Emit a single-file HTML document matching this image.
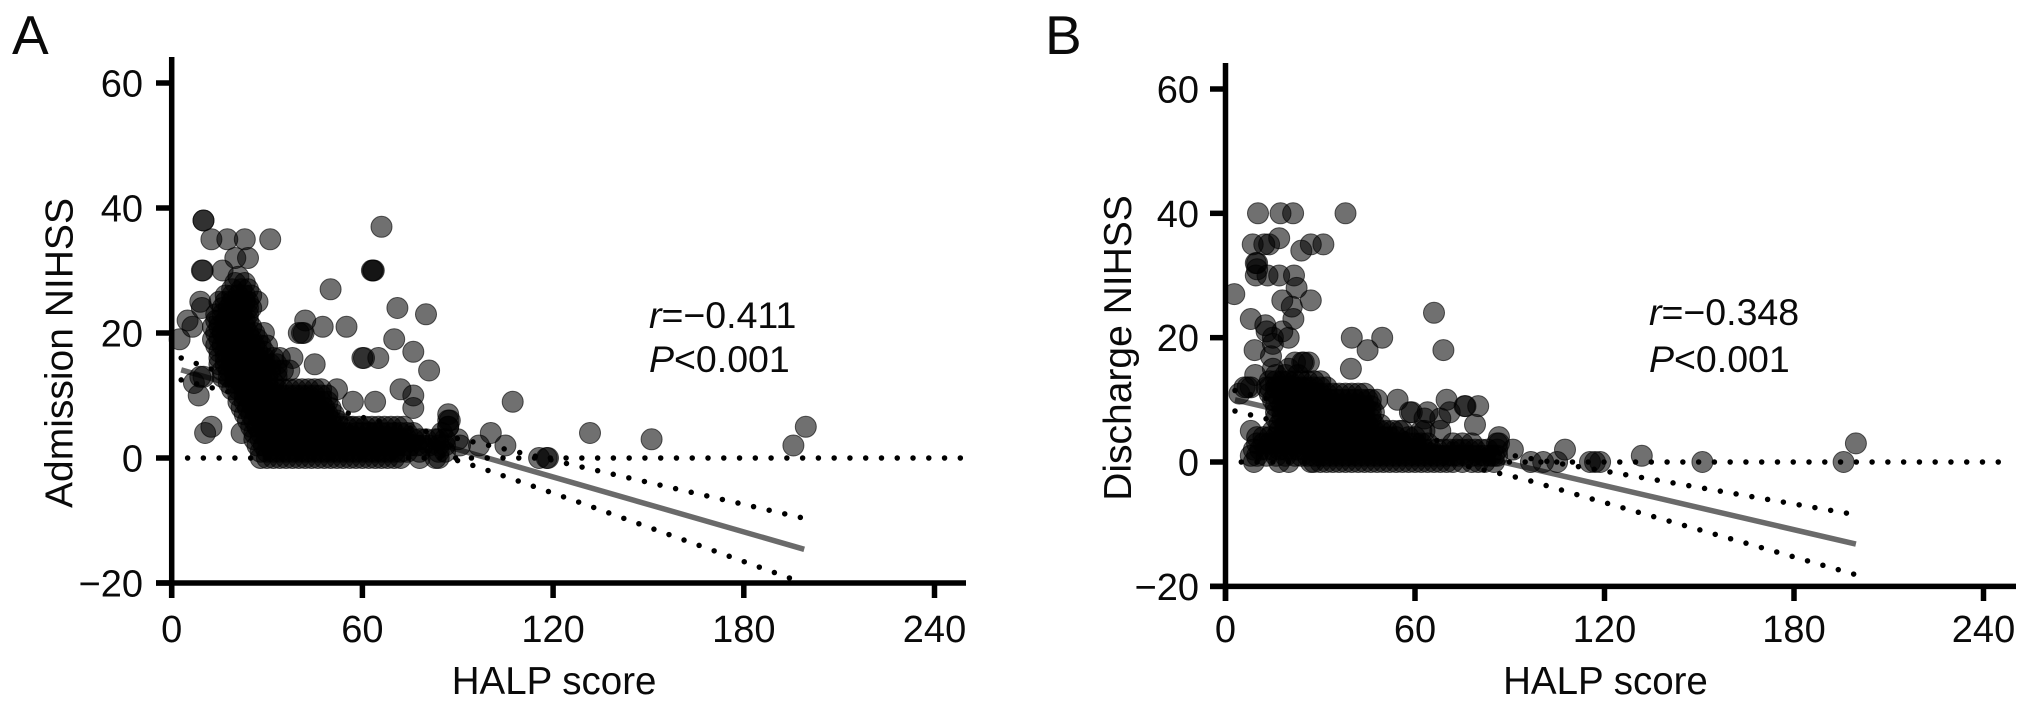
<!DOCTYPE html>
<html lang="en">
<head>
<meta charset="utf-8">
<title>HALP score vs NIHSS</title>
<style>
html,body{margin:0;padding:0;background:#fff;}
svg{display:block;}
text{font-family:"Liberation Sans",Arial,sans-serif;fill:#0a0a0a;}
</style>
</head>
<body>
<svg id="figure" xmlns="http://www.w3.org/2000/svg" width="2032" height="707" viewBox="0 0 2032 707"></svg>
<script>
/* Shared axis ticks */
const xTickValues = [0, 60, 120, 180, 240];
const yTickValues = [60, 40, 20, 0, -20];
const zeroLineScores = [5, 249];
const zeroLineValues = [0, 0];

/* Panel A: NIHSS levels and the HALP scores observed at each level */
const nihssLevelsA = [38,37,35,32,30,29,28,27,26,25,24,23,22,21,20,19,18,17,16,15,14,13,12,11,10,9,8,7,6,5,4,3,2,1,0];
const halpByLevelA = [
  [10,10],
  [66],
  [12.5,17.5,23,31],
  [20,24],
  [9.5,9.8,16,63,63.3,63.6],
  [21],
  [20,23],
  [50,19,22,24],
  [17,19,21,23,25],
  [9,15,17,19,21,23,24,27],
  [9.5,71,16,18,20,22,24,25],
  [80,14,16,18,20,22,24],
  [5,42,14,15,17,19,21,23,24],
  [6.5,47.5,55,13,15,17,19,21,23,25],
  [41,41.5,40,29,14,16,18,20,22,24,26],
  [2.5,70,13,15,17,19,21,23,25,27],
  [30,14,16,18,20,22,24,26,28],
  [76,15,17,19,21,23,25,27,29],
  [38,60,60.5,65,15,17,19,21,23,25,27,29,32,34],
  [45,15,17,19,21,23,25,27,29,31,33],
  [37,81,16,18,20,22,24,26,28,31,33,35],
  [9,10,16,18,20,22,24,26,28,30,33],
  [7,18,20,22,24,26,28,30,32],
  [52,72,19,21,23,25,27,29,31,33,35,37,39,41,43,45,47],
  [8.5,76,21,23,25,27,29,31,33,35,37,39,41,43,45,47,49],
  [57,64,21,23,25,27,29,31,33,35,37,39,41,43,45,47,49],
  [76,22,24,26,28,30,32,34,36,38,40,42,44,46,48,50],
  [87,23,25,27,29,31,33,35,37,39,41,43,45,47,49,51],
  [87,87.5,24,26,28,30,32,34,36,38,40,42,44,46,48,50,52],
  [12.5,87,87,25,27,29,31,33,35,37,39,41,43,45,47,49,51,53,55,57,59,61,63,65,67,69,71,73],
  [10.5,100.4,131.6,85,22,26,28,30,32,34,36,38,40,42,44,46,48,50,52,54,56,58,60,62,64,66,68,70,72,74,76],
  [151,86,84,90,26,28,30,32,34,36,38,40,42,44,46,48,50,52,54,56,58,60,62,64,66,68,70,72,74,76,78,80,83],
  [96.7,105,195.6,90.7,27,29,31,33,35,37,39,41,43,45,47,49,51,53,55,57,59,61,63,65,67,69,71,73,75,77,79,81,84,86],
  [28,30,32,34,36,38,40,42,44,46,48,50,52,54,56,58,60,62,64,66,68,70,72,74,78,84,86],
  [115.6,118,118.4,28,30,32,34,36,38,40,42,44,46,48,50,52,54,56,58,60,62,64,66,68,70,72,78,83,84]
];
const extraHighScoreA = [107.3, 199.5];
const extraHighValueA = [9, 5];
const fitScoresA = [3, 199];
const fitValuesA = [14.1, -14.6];
const upperScoresA = [3, 30, 60, 100, 127, 156, 199];
const upperValuesA = [16, 11, 6.5, 2, -1.2, -4.6, -9.65];
const lowerScoresA = [3, 30, 60, 97.3, 130, 195.5];
const lowerValuesA = [12.5, 9, 4.4, -1.6, -7.4, -19.4];

/* Panel B: NIHSS levels and the HALP scores observed at each level */
const nihssLevelsB = [40,36,35,34,32,31,30,28,27,26,25,24,23,22,21,20,19,18,17,16,15,14,13,12,11,10,9,8,7,6,5,4,3,2,1,0];
const halpByLevelB = [
  [10.3,17.4,21.4,38],
  [17],
  [8.6,12.3,13.8,27,31],
  [24],
  [9.6,10],
  [10],
  [9.6,13.3,17,21.7],
  [22.5],
  [2.8],
  [18,27],
  [21],
  [66],
  [8,21.5],
  [12.6],
  [13,18],
  [40,49.6,20,15],
  [15],
  [9.2,45,69],
  [14.4],
  [24.3,24.8,26.4,22],
  [39.7,15,20],
  [9.4,16,19,23],
  [14,16,18,20,22,24,26,28,30],
  [7,8,6,13,14,16,18,20,22,24,26,28,30,32],
  [4.4,40,14,16,18,20,22,24,26,28,30,32,34,36,38,42,44],
  [54.5,70,46,15,17,19,21,23,25,27,29,31,33,35,37,39,41,43,45,48],
  [75.7,76,80,16,18,20,22,24,26,28,30,32,34,36,38,40,42,44,46],
  [58.4,59,64,71,16,18,20,22,24,26,28,30,32,34,36,38,40,42,44,46,47],
  [63,68,16,18,20,22,24,26,28,30,32,34,36,38,40,42,44,46],
  [79,17,19,21,23,25,27,29,31,33,35,37,39,41,43,45,47,49],
  [8,68,62,63,56,15,17,19,21,23,25,27,29,31,33,35,37,39,41,43,45,47,49,51,53,55],
  [10,12,14,16,18,20,22,24,26,28,30,32,34,36,38,40,42,44,46,48,50,52,54,58,60,86.6],
  [86.6,86,10,12,14,16,18,20,22,24,26,28,30,32,34,36,38,40,42,44,46,48,50,52,54,56,58,60,62,64,72,75,78],
  [91,107.5,86,9,11,13,15,17,19,21,23,25,27,29,31,33,35,37,39,41,43,45,47,49,51,53,55,57,59,61,63,65,67,69,71,73,75,77,79,81,83],
  [131.8,85,8,10,13,16,19,22,24,26,28,30,32,34,36,38,40,42,44,46,48,50,52,54,56,58,60,62,64,66,68,70,72,74,76,78,80,82,84,86],
  [96.7,100.6,105,115.4,117,118.6,151,195.7,85,82,80,78,75,72,70,68,66,64,62,60,58,56,54,52,50,48,46,44,42,40,38,36,34,32,30,28,27,20,17,9]
];
const extraHighScoreB = [199.6];
const extraHighValueB = [3];
const fitScoresB = [3, 199.6];
const fitValuesB = [10, -13.2];
const upperScoresB = [3, 40, 80, 124, 197];
const upperValuesB = [11.5, 6.5, 2, -1.8, -8.25];
const lowerScoresB = [3, 40, 94.3, 113, 200];
const lowerValuesB = [8.2, 3.5, -2.7, -5.5, -18.2];

const svg = document.getElementById('figure');
const NS = 'http://www.w3.org/2000/svg';

function make(tag, attrs, parent) {
  const el = document.createElementNS(NS, tag);
  for (const k in attrs) el.setAttribute(k, attrs[k]);
  parent.appendChild(el);
  return el;
}
function minusText(v) { return v < 0 ? '\u2212' + Math.abs(v) : String(v); }

function drawPanel(p) {
  const sx = v => p.x0 + v * (p.x240 - p.x0) / 240;
  const sy = v => p.y0 + v * (p.y60 - p.y0) / 60;
  const pts = (xs, ys) => xs.map((x, i) => sx(x).toFixed(1) + ',' + sy(ys[i]).toFixed(1)).join(' ');

  const g = make('g', {}, svg);
  
  

  const letter = make('text', {x: p.letterX, y: 54, 'font-size': 55}, g);
  letter.textContent = p.id.toUpperCase();
  
  

  const fit = make('polyline', {points: pts(p.fitX, p.fitY), fill: 'none', stroke: '#6a6a6a', 'stroke-width': 5.5}, g);
  
  

  const zero = make('polyline', {points: pts(zeroLineScores, zeroLineValues), fill: 'none', stroke: '#000', 'stroke-width': 5.5, 'stroke-linecap': 'round', 'stroke-dasharray': '0 15.77'}, g);
  
  

  const upper = make('polyline', {points: pts(p.upperX, p.upperY), fill: 'none', stroke: '#000', 'stroke-width': 5.5, 'stroke-linecap': 'round', 'stroke-dasharray': '0 16'}, g);
  
  

  const lower = make('polyline', {points: pts(p.lowerX, p.lowerY), fill: 'none', stroke: '#000', 'stroke-width': 5.5, 'stroke-linecap': 'round', 'stroke-dasharray': '0 16'}, g);
  
  

  const dots = make('g', {}, g);
  
  
  const addDot = (score, level) => {
    const c = make('circle', {cx: sx(score).toFixed(1), cy: sy(level).toFixed(1), r: 10.5, fill: 'rgba(0,0,0,0.56)', stroke: 'rgba(0,0,0,0.62)', 'stroke-width': 1}, dots);
    
    
  };
  p.levels.forEach((level, i) => p.scores[i].forEach(score => addDot(score, level)));
  p.extraX.forEach((score, i) => addDot(score, p.extraY[i]));

  const yAxis = make('line', {x1: p.x0, x2: p.x0, y1: p.yTop, y2: p.tickBottom, stroke: '#000', 'stroke-width': 5.5}, g);
  
  

  const xAxis = make('line', {x1: p.tickLeft, x2: p.xEnd, y1: sy(-20), y2: sy(-20), stroke: '#000', 'stroke-width': 5.5}, g);
  
  

  yTickValues.forEach(v => {
    const t = make('line', {x1: p.tickLeft, x2: p.x0, y1: sy(v), y2: sy(v), stroke: '#000', 'stroke-width': 5.5}, g);
    
    
    const lab = make('text', {x: p.yLabelX, y: sy(v) + 13.5, 'font-size': 38, 'text-anchor': 'end'}, g);
    lab.textContent = minusText(v);
    
    
  });

  xTickValues.forEach(v => {
    const t = make('line', {x1: sx(v), x2: sx(v), y1: sy(-20), y2: p.tickBottom, stroke: '#000', 'stroke-width': 5.5}, g);
    
    
    const lab = make('text', {x: sx(v), y: 642, 'font-size': 38, 'text-anchor': 'middle'}, g);
    lab.textContent = String(v);
    
    
  });

  const xTitle = make('text', {x: sx(120) + 1, y: 694, 'font-size': 38.5, 'text-anchor': 'middle'}, g);
  xTitle.textContent = 'HALP score';
  
  

  const yTitle = make('text', {x: 0, y: 0, 'font-size': 39, 'text-anchor': 'middle', transform: 'translate(' + p.titleX + ' ' + p.titleY + ') rotate(-90)'}, g);
  yTitle.textContent = p.title;
  
  

  const rText = make('text', {x: p.noteX, y: p.noteY1, 'font-size': 37.5}, g);
  
  
  const rItalic = make('tspan', {'font-style': 'italic'}, rText);
  rItalic.textContent = 'r';
  rText.appendChild(document.createTextNode(p.rValue));

  const pText = make('text', {x: p.noteX, y: p.noteY2, 'font-size': 37.5}, g);
  
  
  const pItalic = make('tspan', {'font-style': 'italic'}, pText);
  pItalic.textContent = 'P';
  pText.appendChild(document.createTextNode('<0.001'));
}

drawPanel({
  id: 'a', title: 'Admission NIHSS', rValue: '=\u22120.411',
  x0: 171.7, x240: 934.5, y0: 458, y60: 83, yTop: 57, xEnd: 966, tickLeft: 156, tickBottom: 598,
  yLabelX: 143, letterX: 12, titleX: 72.5, titleY: 353, noteX: 649, noteY1: 328, noteY2: 372,
  levels: nihssLevelsA, scores: halpByLevelA, extraX: extraHighScoreA, extraY: extraHighValueA,
  fitX: fitScoresA, fitY: fitValuesA, upperX: upperScoresA, upperY: upperValuesA, lowerX: lowerScoresA, lowerY: lowerValuesA
});
drawPanel({
  id: 'b', title: 'Discharge NIHSS', rValue: '=\u22120.348',
  x0: 1225.5, x240: 1983.5, y0: 462, y60: 89, yTop: 63, xEnd: 2016, tickLeft: 1210, tickBottom: 601,
  yLabelX: 1199, letterX: 1045, titleX: 1131, titleY: 348, noteX: 1649, noteY1: 325, noteY2: 372,
  levels: nihssLevelsB, scores: halpByLevelB, extraX: extraHighScoreB, extraY: extraHighValueB,
  fitX: fitScoresB, fitY: fitValuesB, upperX: upperScoresB, upperY: upperValuesB, lowerX: lowerScoresB, lowerY: lowerValuesB
});
</script>
</body>
</html>
